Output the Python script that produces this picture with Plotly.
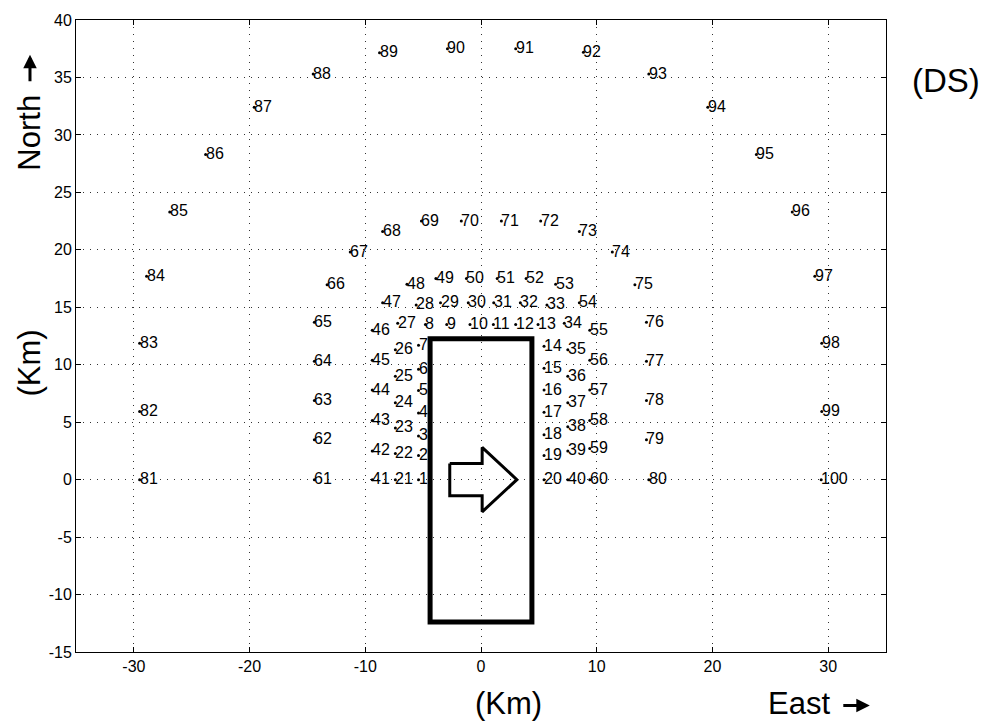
import plotly.graph_objects as go

# Station positions (km east, km north) and their numbers
station_ids = list(range(1, 101))
east_km = [
    -5.4, -5.4, -5.4, -5.4, -5.4, -5.4, -5.4, -4.8, -2.96, -0.95,
    1.07, 3.0, 4.93, 5.45, 5.45, 5.45, 5.45, 5.45, 5.45, 5.45,
    -7.4, -7.4, -7.4, -7.4, -7.4, -7.4, -7.2, -5.6, -3.5, -1.1,
    1.1, 3.4, 5.7, 7.2, 7.5, 7.5, 7.5, 7.5, 7.5, 7.5,
    -9.4, -9.4, -9.4, -9.4, -9.4, -9.4, -8.5, -6.4, -3.9, -1.26,
    1.4, 3.9, 6.45, 8.5, 9.4, 9.4, 9.4, 9.4, 9.4, 9.4,
    -14.4, -14.4, -14.4, -14.4, -14.4, -13.3, -11.3, -8.5, -5.15, -1.7,
    1.76, 5.16, 8.5, 11.35, 13.3, 14.3, 14.3, 14.3, 14.3, 14.5,
    -29.5, -29.5, -29.5, -28.9, -26.9, -23.8, -19.6, -14.5, -8.77, -2.9,
    3.0, 8.85, 14.5, 19.6, 23.8, 26.9, 28.85, 29.45, 29.45, 29.4,
]
north_km = [
    0.0, 2.1, 3.8, 5.8, 7.75, 9.6, 11.7, 13.5, 13.5, 13.5,
    13.5, 13.5, 13.5, 11.6, 9.7, 7.8, 5.87, 3.9, 2.1, 0.0,
    0.0, 2.27, 4.5, 6.7, 9.0, 11.3, 13.6, 15.2, 15.4, 15.4,
    15.4, 15.4, 15.2, 13.6, 11.3, 9.0, 6.7, 4.6, 2.5, 0.0,
    0.0, 2.5, 5.15, 7.8, 10.4, 13.0, 15.4, 17.0, 17.5, 17.5,
    17.5, 17.5, 17.0, 15.4, 13.0, 10.4, 7.8, 5.15, 2.7, 0.0,
    0.0, 3.48, 6.88, 10.3, 13.7, 16.95, 19.8, 21.6, 22.5, 22.5,
    22.5, 22.5, 21.6, 19.8, 16.95, 13.7, 10.3, 6.88, 3.48, 0.0,
    0.0, 5.93, 11.86, 17.7, 23.3, 28.3, 32.4, 35.3, 37.16, 37.5,
    37.5, 37.2, 35.3, 32.4, 28.3, 23.3, 17.7, 11.86, 5.93, 0.0,
]

# Source footprint (rectangle) and wind-direction arrow outline
box_x = [-4.4, 4.4]
box_y = [-12.4, 12.25]
arrow_x = [-2.7, 0.1, 0.1, 3.1, 0.1, 0.1, -2.7, -2.7]
arrow_y = [1.4, 1.4, 2.8, 0.0, -2.8, -1.4, -1.4, 1.4]

x_ticks = [-30, -20, -10, 0, 10, 20, 30]
y_ticks = [-15, -10, -5, 0, 5, 10, 15, 20, 25, 30, 35, 40]

label_font = "Liberation Sans Narrow, Liberation Sans, Arial, sans-serif"
num_font = "Liberation Sans, Arial, sans-serif"
tick_font = dict(family=num_font, size=16, color="black")

fig = go.Figure()

# Station dots
fig.add_trace(go.Scatter(
    x=east_km, y=north_km,
    mode="markers",
    marker=dict(size=3, color="black"),
    hoverinfo="skip",
    showlegend=False,
))

# Arrow outline
fig.add_trace(go.Scatter(
    x=arrow_x, y=arrow_y, mode="lines",
    line=dict(color="black", width=3),
    hoverinfo="skip", showlegend=False,
))

# Station numbers, starting right at each dot
station_labels = [
    dict(x=ex, y=ny, xref="x", yref="y", text=str(sid), showarrow=False,
         xanchor="left", yanchor="middle", xshift=-2, yshift=1,
         font=dict(family=num_font, size=16, color="black"))
    for sid, ex, ny in zip(station_ids, east_km, north_km)
]

# Rectangle drawn above the labels
fig.add_shape(type="rect", x0=box_x[0], x1=box_x[1], y0=box_y[0], y1=box_y[1],
              line=dict(color="black", width=5), layer="above")

axis_common = dict(
    showgrid=True, gridcolor="rgba(0,0,0,0.8)", gridwidth=1, griddash="1px,6px",
    zeroline=False, showline=True, linecolor="black", linewidth=1,
    mirror="ticks", ticks="inside", ticklen=5, tickcolor="black",
)

fig.update_xaxes(range=[-35, 35], tickvals=x_ticks,
                 ticktext=[str(v) for v in x_ticks], tickfont=tick_font, **axis_common)
fig.update_yaxes(range=[-15, 40], tickvals=y_ticks,
                 ticktext=[str(v) for v in y_ticks], tickfont=tick_font, **axis_common)

big = dict(family=label_font, size=31, color="black")
title_labels = [
    dict(text="(Km)", x=0.5 + 27 / 810, y=-0.05, xref="paper", yref="paper",
         xanchor="center", yanchor="top", showarrow=False, font=big),
    dict(text="East", x=0.933, y=-0.05, xref="paper", yref="paper",
         xanchor="right", yanchor="top", showarrow=False, font=big),
    dict(text="(DS)", x=1.03, y=0.905, xref="paper", yref="paper",
         xanchor="left", yanchor="middle", showarrow=False,
         font=dict(family=label_font, size=33, color="black")),
    dict(text="North", x=-0.0568, y=0.885, xref="paper", yref="paper",
         xanchor="center", yanchor="top", showarrow=False, textangle=-90, font=big),
    dict(text="(Km)", x=-0.0568, y=0.458, xref="paper", yref="paper",
         xanchor="center", yanchor="middle", showarrow=False, textangle=-90, font=big),
    # direction arrows next to the axis names
    dict(text="", x=0.980, y=-0.0848, xref="paper", yref="paper",
         ax=-28, ay=0, axref="pixel", ayref="pixel", showarrow=True,
         arrowhead=2, arrowsize=0.9, arrowwidth=3, arrowcolor="black"),
    dict(text="", x=-0.0568, y=0.945, xref="paper", yref="paper",
         ax=0, ay=28, axref="pixel", ayref="pixel", showarrow=True,
         arrowhead=2, arrowsize=0.9, arrowwidth=3, arrowcolor="black"),
]

fig.update_layout(
    width=986, height=725,
    margin=dict(l=76, r=100, t=15, b=73),
    paper_bgcolor="white", plot_bgcolor="white",
    annotations=station_labels + title_labels,
    showlegend=False,
)

fig.write_html("out.html")
